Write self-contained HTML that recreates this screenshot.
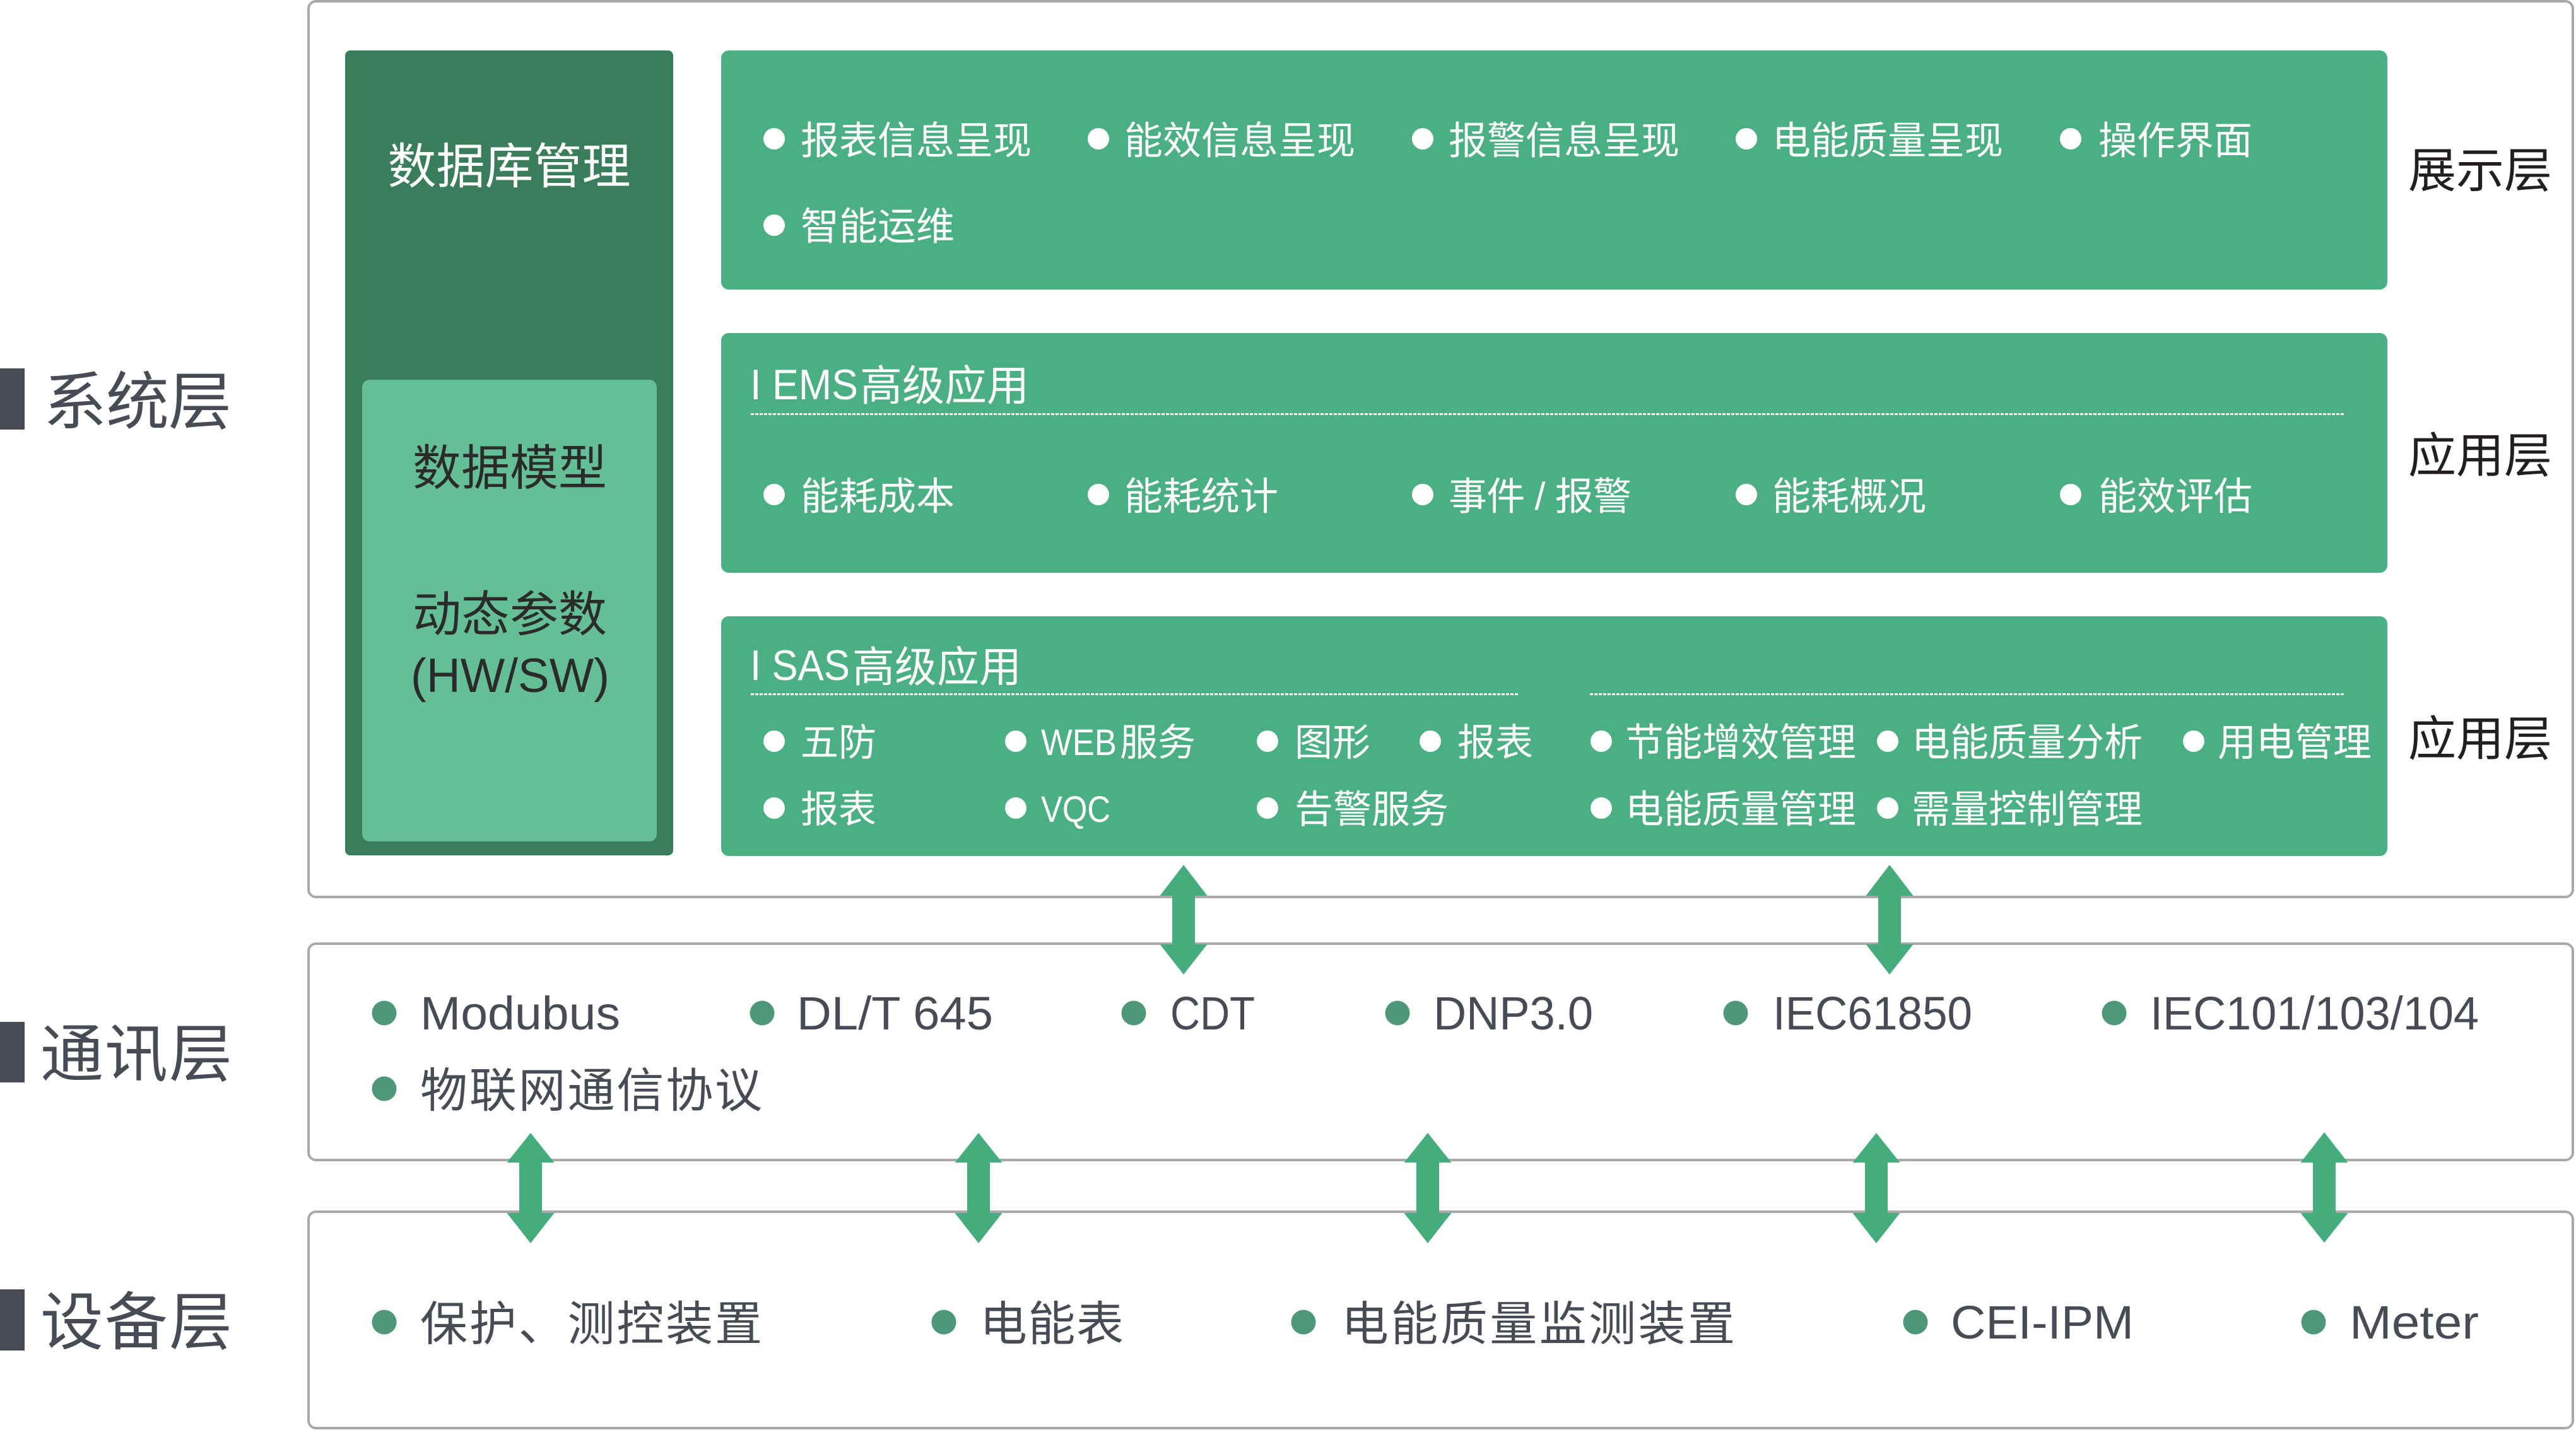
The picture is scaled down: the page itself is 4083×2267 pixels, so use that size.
<!DOCTYPE html>
<html>
<head>
<meta charset="utf-8">
<style>
html,body{margin:0;padding:0;background:#fff;}
body{width:4083px;height:2267px;overflow:hidden;}
svg{display:block;}
text{font-family:"Liberation Sans","Noto Sans CJK SC",sans-serif;}
.w{fill:#ffffff;}
.g{fill:#474b55;}
.k{fill:#231f20;}
.d{fill:#2b2b2b;}
</style>
</head>
<body>
<svg width="4083" height="2267" viewBox="0 0 4083 2267" xmlns="http://www.w3.org/2000/svg">
<rect x="0" y="0" width="4083" height="2267" fill="#ffffff"/>

<!-- Left layer labels -->
<rect x="0" y="584" width="39" height="97" fill="#474b55"/>
<text class="g" x="69" y="672" font-size="100" textLength="298" lengthAdjust="spacing">系统层</text>
<rect x="0" y="1620" width="39" height="96" fill="#474b55"/>
<text class="g" x="64" y="1706" font-size="100" textLength="304" lengthAdjust="spacing">通讯层</text>
<rect x="0" y="2044" width="39" height="97" fill="#474b55"/>
<text class="g" x="64" y="2131" font-size="100" textLength="304" lengthAdjust="spacing">设备层</text>

<!-- Outer white boxes -->
<rect x="489" y="2" width="3589" height="1420" rx="12" ry="12" fill="#ffffff" stroke="#a9a9a9" stroke-width="4"/>
<rect x="489" y="1496" width="3589" height="343" rx="12" ry="12" fill="#ffffff" stroke="#a9a9a9" stroke-width="4"/>
<rect x="489" y="1921" width="3589" height="343" rx="12" ry="12" fill="#ffffff" stroke="#a9a9a9" stroke-width="4"/>

<!-- Database column -->
<rect x="547" y="80" width="520" height="1276" rx="8" ry="8" fill="#3a7d5b"/>
<rect x="574" y="602" width="467" height="732" rx="12" ry="12" fill="#64bf97"/>
<text class="w" x="807" y="291" font-size="77" text-anchor="middle">数据库管理</text>
<text class="d" x="808" y="769" font-size="77" text-anchor="middle">数据模型</text>
<text class="d" x="808" y="1001" font-size="77" text-anchor="middle">动态参数</text>
<text class="d" x="651" y="1097" font-size="76" textLength="315" lengthAdjust="spacingAndGlyphs">(HW/SW)</text>

<!-- Display box -->
<rect x="1143" y="80" width="2641" height="379" rx="12" ry="12" fill="#4aaf82"/>
<g fill="#ffffff">
<circle cx="1227" cy="220" r="17"/>
<circle cx="1741" cy="220" r="17"/>
<circle cx="2255" cy="220" r="17"/>
<circle cx="2768" cy="220" r="17"/>
<circle cx="3282" cy="220" r="17"/>
<circle cx="1227" cy="357" r="17"/>
</g>
<text class="w" x="1269" y="244" font-size="61">报表信息呈现</text>
<text class="w" x="1782" y="244" font-size="61">能效信息呈现</text>
<text class="w" x="2296" y="244" font-size="61">报警信息呈现</text>
<text class="w" x="2809" y="244" font-size="61">电能质量呈现</text>
<text class="w" x="3326" y="244" font-size="61">操作界面</text>
<text class="w" x="1269" y="380" font-size="61">智能运维</text>

<!-- EMS box -->
<rect x="1143" y="528" width="2641" height="380" rx="12" ry="12" fill="#4aaf82"/>
<text class="w" x="1189" y="633" font-size="68" textLength="171" lengthAdjust="spacingAndGlyphs">I EMS</text>
<text class="w" x="1363" y="635" font-size="67">高级应用</text>
<line x1="1190" y1="656.5" x2="3717" y2="656.5" stroke="#ffffff" stroke-width="3" stroke-dasharray="5 2"/>
<g fill="#ffffff">
<circle cx="1227" cy="784" r="17"/>
<circle cx="1741" cy="784" r="17"/>
<circle cx="2255" cy="784" r="17"/>
<circle cx="2768" cy="784" r="17"/>
<circle cx="3282" cy="784" r="17"/>
</g>
<text class="w" x="1269" y="808" font-size="61">能耗成本</text>
<text class="w" x="1782" y="808" font-size="61">能耗统计</text>
<text class="w" x="2296" y="808" font-size="61" textLength="290" lengthAdjust="spacing">事件 / 报警</text>
<text class="w" x="2809" y="808" font-size="61">能耗概况</text>
<text class="w" x="3326" y="808" font-size="61">能效评估</text>

<!-- SAS box -->
<rect x="1143" y="977" width="2641" height="380" rx="12" ry="12" fill="#4aaf82"/>
<text class="w" x="1189" y="1078" font-size="68" textLength="158" lengthAdjust="spacingAndGlyphs">I SAS</text>
<text class="w" x="1351" y="1081" font-size="67">高级应用</text>
<line x1="1190" y1="1100.5" x2="2406" y2="1100.5" stroke="#ffffff" stroke-width="3" stroke-dasharray="5 2"/>
<line x1="2520" y1="1100.5" x2="3717" y2="1100.5" stroke="#ffffff" stroke-width="3" stroke-dasharray="5 2"/>
<g fill="#ffffff">
<circle cx="1227" cy="1175" r="17"/>
<circle cx="1610" cy="1175" r="17"/>
<circle cx="2009" cy="1175" r="17"/>
<circle cx="2267" cy="1175" r="17"/>
<circle cx="2538" cy="1175" r="17"/>
<circle cx="2992" cy="1175" r="17"/>
<circle cx="3477" cy="1175" r="17"/>
<circle cx="1227" cy="1281" r="17"/>
<circle cx="1610" cy="1281" r="17"/>
<circle cx="2009" cy="1281" r="17"/>
<circle cx="2538" cy="1281" r="17"/>
<circle cx="2992" cy="1281" r="17"/>
</g>
<text class="w" x="1269" y="1198" font-size="60">五防</text>
<text class="w" x="1650" y="1197" font-size="58" textLength="120" lengthAdjust="spacingAndGlyphs">WEB</text>
<text class="w" x="1775" y="1198" font-size="60">服务</text>
<text class="w" x="2052" y="1198" font-size="60">图形</text>
<text class="w" x="2310" y="1198" font-size="60">报表</text>
<text class="w" x="2576" y="1198" font-size="61">节能增效管理</text>
<text class="w" x="3030" y="1198" font-size="61">电能质量分析</text>
<text class="w" x="3515" y="1198" font-size="61">用电管理</text>
<text class="w" x="1269" y="1304" font-size="60">报表</text>
<text class="w" x="1650" y="1303" font-size="58" textLength="110" lengthAdjust="spacingAndGlyphs">VQC</text>
<text class="w" x="2052" y="1304" font-size="61">告警服务</text>
<text class="w" x="2576" y="1304" font-size="61">电能质量管理</text>
<text class="w" x="3030" y="1304" font-size="61">需量控制管理</text>

<!-- Right labels -->
<text class="k" x="3817" y="297" font-size="76" textLength="228" lengthAdjust="spacing">展示层</text>
<text class="k" x="3817" y="749" font-size="76" textLength="228" lengthAdjust="spacing">应用层</text>
<text class="k" x="3817" y="1198" font-size="76" textLength="228" lengthAdjust="spacing">应用层</text>

<!-- Communication layer -->
<g fill="#4e9779">
<circle cx="609" cy="1606" r="19.5"/>
<circle cx="1208" cy="1606" r="19.5"/>
<circle cx="1797" cy="1606" r="19.5"/>
<circle cx="2215" cy="1606" r="19.5"/>
<circle cx="2751" cy="1606" r="19.5"/>
<circle cx="3351" cy="1606" r="19.5"/>
<circle cx="609" cy="1726" r="19.5"/>
</g>
<text class="g" x="666" y="1632" font-size="74" textLength="317" lengthAdjust="spacingAndGlyphs">Modubus</text>
<text class="g" x="1263" y="1632" font-size="74" textLength="311" lengthAdjust="spacingAndGlyphs">DL/T 645</text>
<text class="g" x="1855" y="1632" font-size="74" textLength="134" lengthAdjust="spacingAndGlyphs">CDT</text>
<text class="g" x="2272" y="1632" font-size="74" textLength="253" lengthAdjust="spacingAndGlyphs">DNP3.0</text>
<text class="g" x="2810" y="1632" font-size="74" textLength="316" lengthAdjust="spacingAndGlyphs">IEC61850</text>
<text class="g" x="3408" y="1632" font-size="74" textLength="521" lengthAdjust="spacingAndGlyphs">IEC101/103/104</text>
<text class="g" x="666" y="1755" font-size="75" textLength="542" lengthAdjust="spacing">物联网通信协议</text>

<!-- Device layer -->
<g fill="#4e9779">
<circle cx="609" cy="2096" r="19.5"/>
<circle cx="1496" cy="2096" r="19.5"/>
<circle cx="2066" cy="2096" r="19.5"/>
<circle cx="3036" cy="2096" r="19.5"/>
<circle cx="3667" cy="2096" r="19.5"/>
</g>
<text class="g" x="666" y="2125" font-size="75" textLength="542" lengthAdjust="spacing">保护、测控装置</text>
<text class="g" x="1553" y="2125" font-size="75" textLength="228" lengthAdjust="spacing">电能表</text>
<text class="g" x="2126" y="2125" font-size="75" textLength="624" lengthAdjust="spacing">电能质量监测装置</text>
<text class="g" x="3092" y="2122" font-size="74" textLength="290" lengthAdjust="spacingAndGlyphs">CEI-IPM</text>
<text class="g" x="3724" y="2122" font-size="74" textLength="205" lengthAdjust="spacingAndGlyphs">Meter</text>

<!-- Upper double arrows (system <-> comm) -->
<g fill="#45ad7c">
<polygon points="1876,1371 1913.5,1420 1894,1420 1894,1497 1913.5,1497 1876,1545 1838.5,1497 1858,1497 1858,1420 1838.5,1420"/>
<polygon points="2995,1371 3032.5,1420 3013,1420 3013,1497 3032.5,1497 2995,1545 2957.5,1497 2977,1497 2977,1420 2957.5,1420"/>
</g>

<!-- Lower double arrows (comm <-> device) -->
<g fill="#45ad7c">
<polygon points="841,1796 878.5,1843 859,1843 859,1923 878.5,1923 841,1971 803.5,1923 823,1923 823,1843 803.5,1843"/>
<polygon points="1551,1796 1588.5,1843 1569,1843 1569,1923 1588.5,1923 1551,1971 1513.5,1923 1533,1923 1533,1843 1513.5,1843"/>
<polygon points="2263,1796 2300.5,1843 2281,1843 2281,1923 2300.5,1923 2263,1971 2225.5,1923 2245,1923 2245,1843 2225.5,1843"/>
<polygon points="2974,1796 3011.5,1843 2992,1843 2992,1923 3011.5,1923 2974,1971 2936.5,1923 2956,1923 2956,1843 2936.5,1843"/>
<polygon points="3684,1795 3721.5,1843 3702,1843 3702,1923 3721.5,1923 3684,1970 3646.5,1923 3666,1923 3666,1843 3646.5,1843"/>
</g>
</svg>
</body>
</html>
